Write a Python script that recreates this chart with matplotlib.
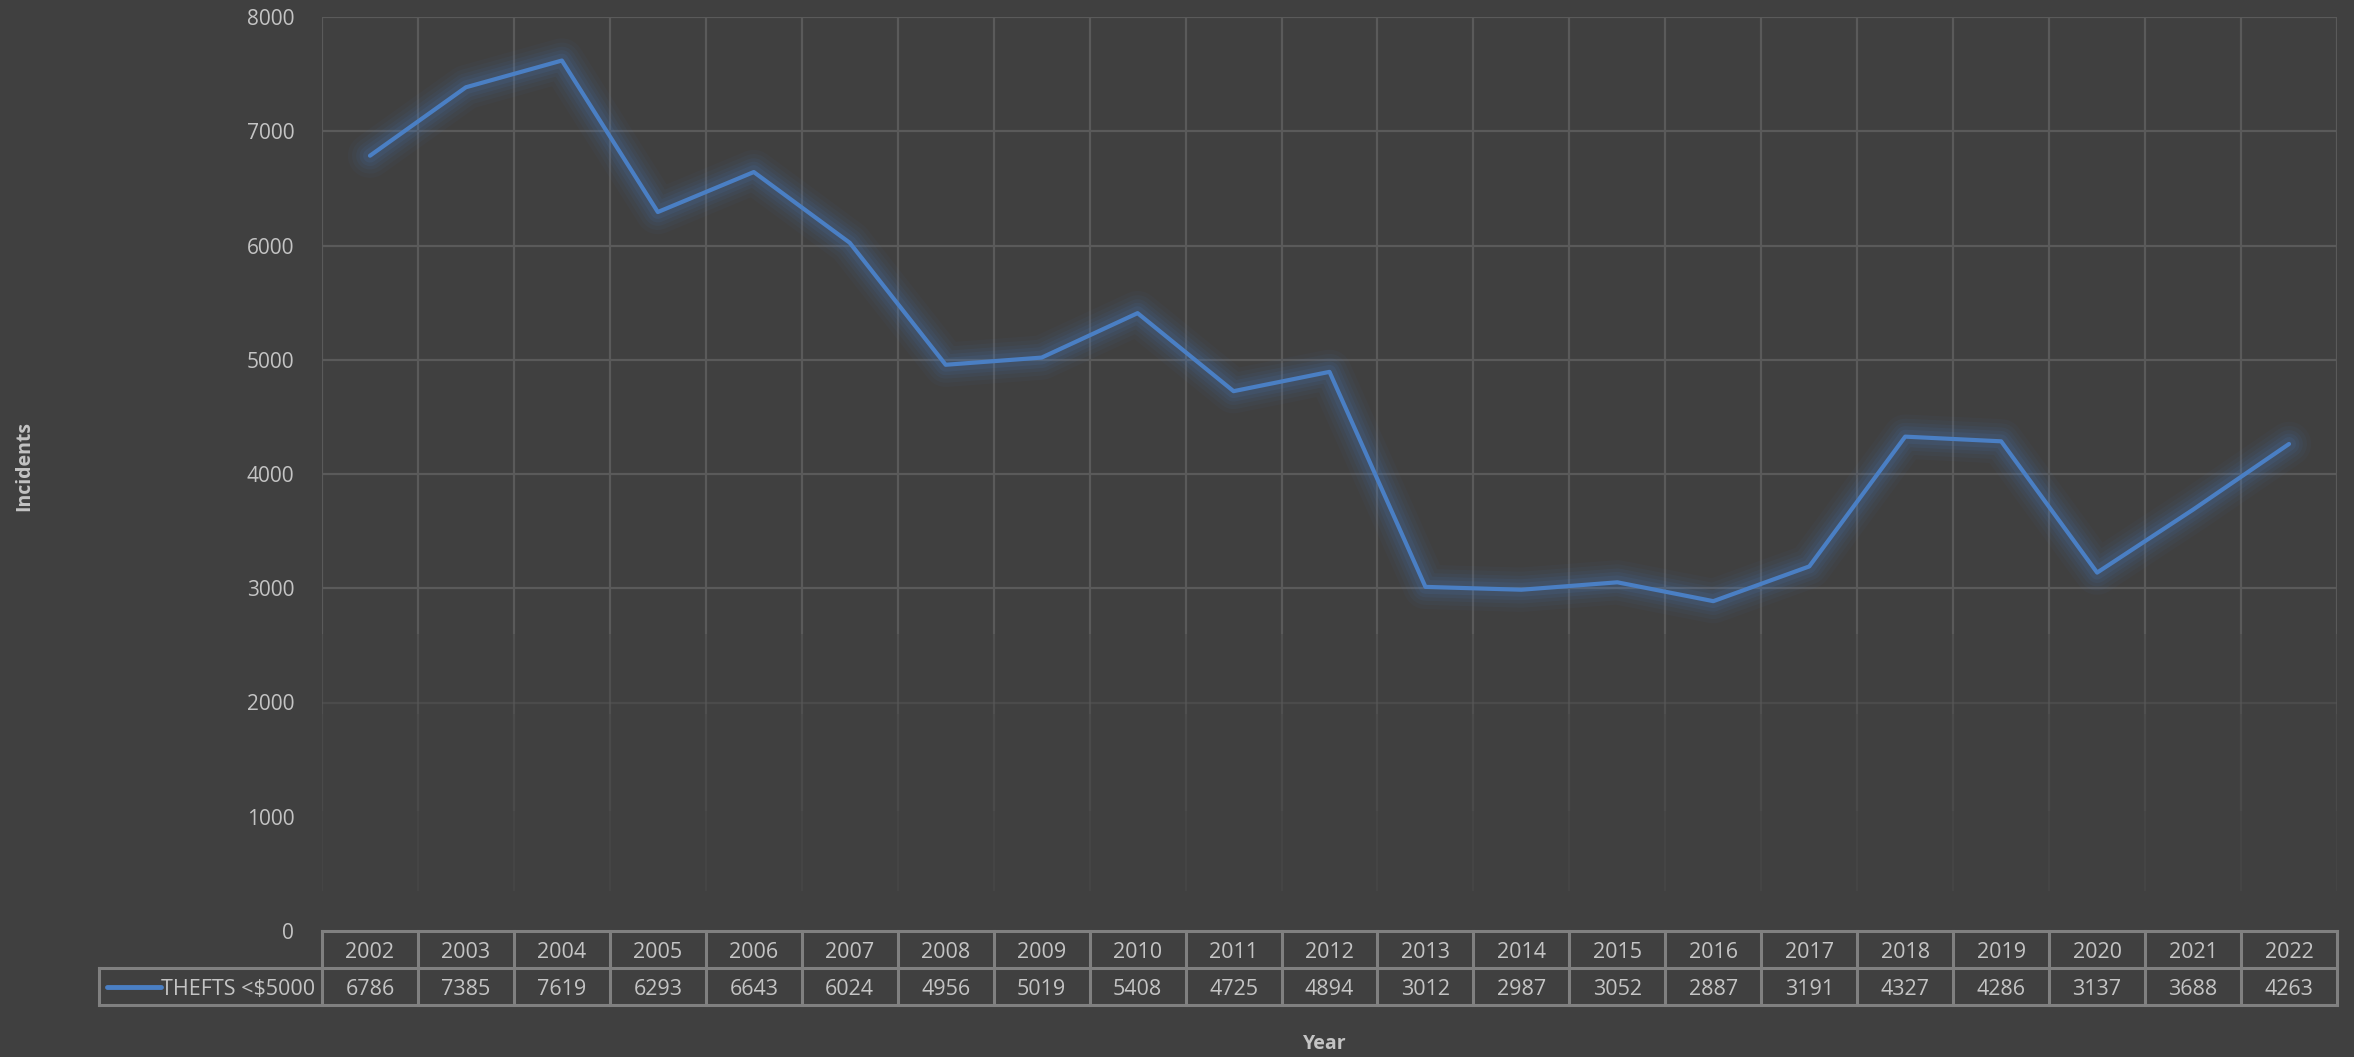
import numpy as np
import matplotlib
matplotlib.use("Agg")
import matplotlib.pyplot as plt
import matplotlib.transforms as mtransforms
from matplotlib.lines import Line2D

# data
years = [2002, 2003, 2004, 2005, 2006, 2007, 2008, 2009, 2010, 2011, 2012,
         2013, 2014, 2015, 2016, 2017, 2018, 2019, 2020, 2021, 2022]
thefts = [6786, 7385, 7619, 6293, 6643, 6024, 4956, 5019, 5408, 4725, 4894,
          3012, 2987, 3052, 2887, 3191, 4327, 4286, 3137, 3688, 4263]
series_name = "THEFTS <$5000"
y_ticks = [0, 1000, 2000, 3000, 4000, 5000, 6000, 7000, 8000]

bg = "#404040"
grid_col = "#5a5a5a"
text_col = "#c4c4c4"
border_col = "#808080"
line_col = "#4a7fc4"

plt.rcParams['font.family'] = ['Open Sans', 'DejaVu Sans']

fig = plt.figure(figsize=(23.54, 10.57), dpi=100, facecolor=bg)
W, H = 2354, 1057
left_px, right_px, top_px, bottom_px = 322, 2337, 17, 931
ax = fig.add_axes([left_px / W, 1 - bottom_px / H,
                   (right_px - left_px) / W, (bottom_px - top_px) / H])
ax.set_facecolor(bg)
for s in ax.spines.values():
    s.set_visible(False)

x = np.arange(len(years))
ax.set_xlim(-0.5, len(years) - 0.5)
ax.set_ylim(0, 8000)
ax.set_xticks([])
ax.set_yticks(y_ticks)
ax.tick_params(axis='y', length=0, pad=20, labelsize=15, labelcolor=text_col)

# horizontal gridlines, fading out near the bottom
for v in y_ticks[1:]:
    a = 1.0 if v >= 3000 else (0.45 if v == 2000 else 0.0)
    if a > 0:
        ax.axhline(v, color=grid_col, lw=1.6, alpha=a, zorder=1)

# vertical gridlines at category boundaries, with a fade toward the bottom
fade = [(8000, 2600, 1.0), (2600, 1900, 0.6), (1900, 1050, 0.42), (1050, 350, 0.22)]
for b in np.arange(-0.5, len(years), 1.0):
    for y0, y1, a in fade:
        ax.plot([b, b], [y1, y0], color=grid_col, lw=1.6, alpha=a, zorder=1,
                solid_capstyle='butt')

# glow under the series line
for lw, a in [(32, 0.04), (26, 0.05), (20, 0.065), (15, 0.085), (10, 0.11)]:
    ax.plot(x, thefts, color=line_col, lw=lw, alpha=a, zorder=2,
            solid_joinstyle='round', solid_capstyle='round')
ax.plot(x, thefts, color=line_col, lw=3.0, zorder=3,
        solid_joinstyle='round', solid_capstyle='round')

# data table below the plot
row_h = 37 / (bottom_px - top_px)
txt_off = 3 / (bottom_px - top_px)
leg_left = (99 - left_px) / (right_px - left_px)
blend = mtransforms.blended_transform_factory(ax.transData, ax.transAxes)
tab_kw = dict(color=border_col, lw=2.2, clip_on=False, zorder=5)
ax.add_line(Line2D([0, 1], [0, 0], transform=ax.transAxes, **tab_kw))
ax.add_line(Line2D([leg_left, 1], [-row_h, -row_h], transform=ax.transAxes, **tab_kw))
ax.add_line(Line2D([leg_left, 1], [-2 * row_h, -2 * row_h], transform=ax.transAxes, **tab_kw))
ax.add_line(Line2D([leg_left, leg_left], [-row_h, -2 * row_h], transform=ax.transAxes, **tab_kw))
for b in np.arange(-0.5, len(years), 1.0):
    ax.add_line(Line2D([b, b], [0, -2 * row_h], transform=blend, **tab_kw))

for i, (yr, v) in enumerate(zip(years, thefts)):
    ax.text(i, -row_h / 2 - txt_off, str(yr), transform=blend, ha='center', va='center',
            fontsize=15.5, color=text_col, clip_on=False)
    ax.text(i, -1.5 * row_h - txt_off, str(v), transform=blend, ha='center', va='center',
            fontsize=15.5, color=text_col, clip_on=False)

# legend key inside the table
ax.add_line(Line2D([(107 - left_px) / 2015, (161 - left_px) / 2015],
                   [-1.5 * row_h, -1.5 * row_h], transform=ax.transAxes,
                   color=line_col, lw=3.5, solid_capstyle='round', clip_on=False))
ax.text((315 - left_px) / 2015, -1.5 * row_h - txt_off, series_name, transform=ax.transAxes,
        ha='right', va='center', fontsize=15.5, color=text_col, clip_on=False)

# axis titles
fig.text(24 / W, 1 - 466 / H, "Incidents", rotation=90, ha='center', va='center',
         fontsize=14, fontweight='bold', color=text_col)
fig.text(1325 / W, 1 - 1044 / H, "Year", ha='center', va='center',
         fontsize=14, fontweight='bold', color=text_col)

fig.savefig("out.png", dpi=100, facecolor=bg)
